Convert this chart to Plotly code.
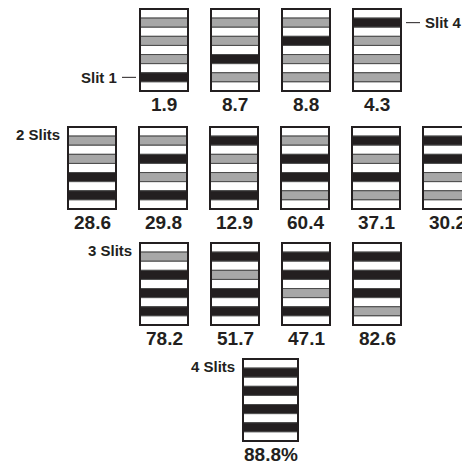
import plotly.graph_objects as go

# ---- data ----
row_titles = ["", "2 Slits", "3 Slits", "4 Slits"]
single_values = [1.9, 8.7, 8.8, 4.3]
single_slits = [[1], [2], [3], [4]]
two_values = [28.6, 29.8, 12.9, 60.4, 37.1, 30.2]
two_slits = [[1, 2], [1, 3], [1, 4], [2, 3], [2, 4], [3, 4]]
three_values = [78.2, 51.7, 47.1, 82.6]
three_slits = [[1, 2, 3], [1, 2, 4], [1, 3, 4], [2, 3, 4]]
four_values = [88.8]
four_slits = [[1, 2, 3, 4]]

# ---- layout (pixel coordinates) ----
W, H = 462, 461
rows = [
    dict(values=single_values, slits=single_slits, x0=140, top=9, w=48, h=82, pct=False),
    dict(values=two_values, slits=two_slits, x0=68, top=127, w=48, h=82, pct=False),
    dict(values=three_values, slits=three_slits, x0=140, top=243, w=48, h=82, pct=False),
    dict(values=four_values, slits=four_slits, x0=243, top=359, w=55, h=82, pct=True),
]
step = 71
BLACK = "#231f20"
GRAY = "#a7a7a7"
WHITE = "#ffffff"

fig = go.Figure()
shapes = []
annotations = []
font_b = dict(family="Liberation Sans, Arial, sans-serif", size=19, color="#231f20")
font_l = dict(family="Liberation Sans, Arial, sans-serif", size=15, color="#231f20")

for r in rows:
    for i, (val, sl) in enumerate(zip(r["values"], r["slits"])):
        x0 = r["x0"] + i * step
        x1 = x0 + r["w"]
        sh = r["h"] / 9.0
        for k in range(9):
            y0 = r["top"] + k * sh
            y1 = y0 + sh
            if k % 2 == 0:
                col = WHITE
            else:
                slit_no = 4 - (k - 1) // 2  # top stripe = slit 4
                col = BLACK if slit_no in sl else GRAY
            shapes.append(dict(type="rect", xref="x", yref="y", x0=x0, x1=x1, y0=y0, y1=y1,
                               fillcolor=col, line=dict(color="#4a4a4a", width=1), layer="above"))
        shapes.append(dict(type="rect", xref="x", yref="y", x0=x0, x1=x1, y0=r["top"], y1=r["top"] + r["h"],
                           fillcolor="rgba(0,0,0,0)", line=dict(color="#231f20", width=2), layer="above"))
        txt = f"{val:.1f}" + ("%" if r["pct"] else "")
        annotations.append(dict(x=(x0 + x1) / 2, y=r["top"] + r["h"] + 13, text="<b>" + txt + "</b>",
                                showarrow=False, xref="x", yref="y", font=font_b,
                                xanchor="center", yanchor="middle"))

# row titles
for r, t in zip(rows, row_titles):
    if t:
        annotations.append(dict(x=r["x0"] - 6, y=r["top"] + 7, text="<b>" + t + "</b>", showarrow=False,
                                xref="x", yref="y", font=font_l, xanchor="right", yanchor="middle"))

# slit markers
r0 = rows[0]
sh0 = r0["h"] / 9.0
y_s1 = r0["top"] + 7.5 * sh0
y_s4 = r0["top"] + 1.5 * sh0
shapes.append(dict(type="line", xref="x", yref="y", x0=r0["x0"] - 18, x1=r0["x0"] - 4, y0=y_s1, y1=y_s1,
                   line=dict(color="#231f20", width=1)))
annotations.append(dict(x=r0["x0"] - 21, y=y_s1, text="<b>Slit 1</b>", showarrow=False, xref="x", yref="y",
                        font=font_l, xanchor="right", yanchor="middle"))
x4 = r0["x0"] + 3 * step + r0["w"]
shapes.append(dict(type="line", xref="x", yref="y", x0=x4 + 5, x1=x4 + 19, y0=y_s4, y1=y_s4,
                   line=dict(color="#231f20", width=1)))
annotations.append(dict(x=x4 + 22, y=y_s4, text="<b>Slit 4</b>", showarrow=False, xref="x", yref="y",
                        font=font_l, xanchor="left", yanchor="middle"))

fig.update_layout(
    width=W, height=H, margin=dict(l=0, r=0, t=0, b=0),
    paper_bgcolor="white", plot_bgcolor="white",
    xaxis=dict(range=[0, W], visible=False, fixedrange=True),
    yaxis=dict(range=[H, 0], visible=False, fixedrange=True),
    shapes=shapes, annotations=annotations, showlegend=False,
)
fig.write_html("out.html", config={"displayModeBar": False},
               post_script="document.body.style.margin='0';document.body.style.overflow='hidden';")
